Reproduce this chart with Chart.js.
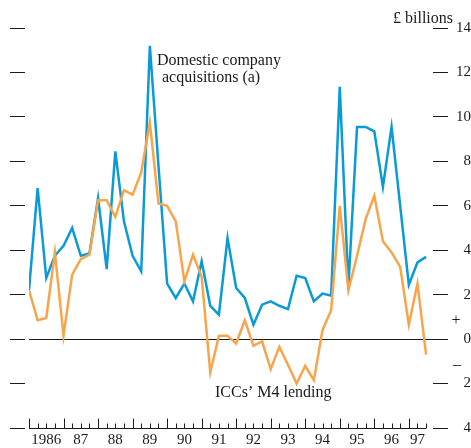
<!DOCTYPE html>
<html>
<head>
<meta charset="utf-8">
<script src="https://cdn.jsdelivr.net/npm/chart.js@4.4.1/dist/chart.umd.min.js"></script>
<style>
  html, body { margin: 0; padding: 0; background: #fff; }
</style>
</head>
<body>
<canvas id="chart" width="471" height="448"></canvas>
<script>
// quarterly series, first observation plotted at the start of 1986
const startYear = 1986;

// Domestic company acquisitions (a), £ billions
const acquisitions = [
  2.2, 6.8, 2.75, 3.75, 4.2, 5.0, 3.75, 3.85, 6.35, 3.15,
  8.45, 5.3, 3.75, 3.05, 13.2, 7.8, 2.5, 1.85, 2.5, 1.7,
  3.5, 1.5, 1.1, 4.55, 2.3, 1.85, 0.65, 1.55, 1.7, 1.5,
  1.35, 2.85, 2.75, 1.7, 2.05, 1.95, 11.35, 2.35, 9.55, 9.55,
  9.35, 6.85, 9.55, 6.0, 2.45, 3.45, 3.7
];

// ICCs' M4 lending, £ billions
const m4Lending = [
  2.2, 0.85, 0.95, 3.9, 0.15, 2.9, 3.6, 3.8, 6.25, 6.25,
  5.5, 6.7, 6.5, 7.5, 9.75, 6.1, 6.0, 5.3, 2.6, 3.8,
  2.8, -1.5, 0.15, 0.15, -0.2, 0.85, -0.3, -0.1, -1.35, -0.35,
  -1.15, -2.0, -1.2, -1.85, 0.4, 1.3, 6.0, 2.2, 3.75, 5.4,
  6.45, 4.4, 3.9, 3.25, 0.65, 2.5, -0.7
];

const yearLabels = ["1986", "87", "88", "89", "90", "91", "92", "93", "94", "95", "96", "97"];
const yTicks = [14, 12, 10, 8, 6, 4, 2, 0, -2, -4];

const serif = '"Liberation Serif", "Times New Roman", serif';
const ink = "#1a1a1a";

const toPoints = vals => vals.map((v, i) => ({ x: startYear + i / 4, y: v }));
const lastX = startYear + (acquisitions.length - 1) / 4;

// axis line with quarter tick marks, plus the text labels on the plot
const decorations = {
  id: "decorations",
  afterDraw(chart) {
    const { ctx, scales: { x, y } } = chart;
    const base = Math.round(y.getPixelForValue(-4)) + 0.5;
    ctx.save();
    ctx.strokeStyle = ink;
    ctx.lineWidth = 1;
    ctx.beginPath();
    ctx.moveTo(x.getPixelForValue(startYear), base);
    ctx.lineTo(x.getPixelForValue(lastX), base);
    for (let q = 0; q <= (lastX - startYear) * 4; q++) {
      const px = Math.round(x.getPixelForValue(startYear + q / 4)) + 0.5;
      const len = q % 4 === 0 ? 10 : 5;
      ctx.moveTo(px, base);
      ctx.lineTo(px, base - len);
    }
    ctx.stroke();

    ctx.fillStyle = ink;
    ctx.font = "16px " + serif;
    ctx.textBaseline = "alphabetic";
    ctx.textAlign = "left";
    ctx.fillText("Domestic company", 157, 65);
    ctx.fillText("acquisitions (a)", 162, 82);
    ctx.fillText("ICCs\u2019 M4 lending", 215, 397);
    ctx.fillText("\u00a3 billions", 393, 23);
    ctx.textAlign = "center";
    ctx.fillText("+", 456, 325);
    ctx.fillText("\u2013", 457, 369);
    ctx.restore();
  }
};

new Chart(document.getElementById("chart"), {
  type: "line",
  data: {
    datasets: [
      {
        label: "ICCs' M4 lending",
        data: toPoints(m4Lending),
        borderColor: "#f7a54c",
        borderWidth: 2.5,
        pointRadius: 0,
        tension: 0
      },
      {
        label: "Domestic company acquisitions (a)",
        data: toPoints(acquisitions),
        borderColor: "#0a9ad6",
        borderWidth: 2.5,
        pointRadius: 0,
        tension: 0
      }
    ]
  },
  options: {
    responsive: false,
    animation: false,
    layout: { padding: { left: 10, right: 0, top: 28, bottom: 0 } },
    plugins: {
      legend: { display: false },
      tooltip: { enabled: false }
    },
    scales: {
      x: {
        type: "linear",
        position: "bottom",
        min: startYear,
        max: 1997.7,
        afterBuildTicks: s => {
          // year labels sit in the middle of each year
          s.ticks = yearLabels.map((l, i) => {
            const a = startYear + i;
            const b = Math.min(a + 1, lastX);
            return { value: (a + b) / 2 };
          });
        },
        afterFit: s => { s.height = 20; },
        ticks: {
          callback: (v, i) => yearLabels[i],
          autoSkip: false,
          maxRotation: 0,
          padding: 3,
          color: ink,
          font: { family: serif, size: 15 }
        },
        grid: { display: false, drawTicks: false },
        border: { display: false }
      },
      yL: {
        position: "left",
        min: -4,
        max: 14,
        afterBuildTicks: s => { s.ticks = yTicks.map(v => ({ value: v })); },
        ticks: { display: false },
        grid: {
          drawOnChartArea: false,
          tickLength: 19,
          tickColor: ink,
          tickBorderDash: [15, 4]
        },
        border: { display: false }
      },
      y: {
        position: "right",
        min: -4,
        max: 14,
        afterBuildTicks: s => { s.ticks = yTicks.map(v => ({ value: v })); },
        ticks: {
          callback: v => Math.abs(v),
          padding: 4,
          crossAlign: "far",
          color: ink,
          font: { family: serif, size: 15 }
        },
        grid: {
          color: c => (c.tick && c.tick.value === 0 ? ink : "rgba(0,0,0,0)"),
          tickLength: 15,
          tickColor: ink
        },
        border: { display: false }
      }
    }
  },
  plugins: [decorations]
});
</script>
</body>
</html>
